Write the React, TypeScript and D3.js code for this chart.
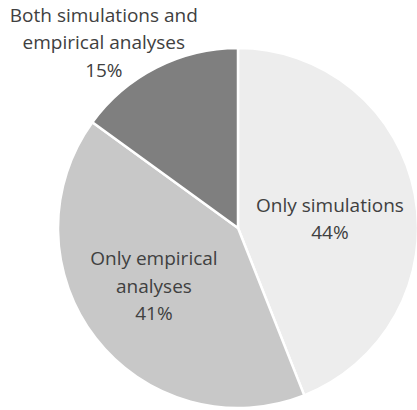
import React from 'react';
import * as d3 from 'd3';

// chart data
const categories = ['Only simulations', 'Only empirical analyses', 'Both simulations and empirical analyses'];
const shares = [44, 41, 15];
const labelLines = [
  ['Only simulations', '44%'],
  ['Only empirical', 'analyses', '41%'],
  ['Both simulations and', 'empirical analyses', '15%'],
];
const colors = ['#ededed', '#c8c8c8', '#7f7f7f'];

// layout
const W = 417;
const H = 410;
const cx = 238;
const cy = 228;
const R = 180;
const lineH = 27.5;
// label radius as a fraction of R, plus small nudges (Excel "best fit")
const labelPos = [
  { r: 0.52, dx: 0, dy: 10 },
  { r: 0.57, dx: -3, dy: -3 },
  { r: 1.14, dx: -41, dy: -1 },
];

export default function App() {
  const pie = d3.pie<number>().sort(null).value(d => d)(shares);
  const arc = d3.arc<d3.PieArcDatum<number>>().innerRadius(0).outerRadius(R);

  return (
    <svg width={W} height={H} style={{ position: 'absolute', left: 0, top: 0, background: '#fff' }}
      fontFamily="'Open Sans', sans-serif">
      <g transform={`translate(${cx},${cy})`}>
        {pie.map((p, i) => (
          <path key={categories[i]} d={arc(p) || ''} fill={colors[i]} stroke="#fff" strokeWidth={2.5} strokeLinejoin="round" />
        ))}
        {pie.map((p, i) => {
          const lp = labelPos[i];
          const la = d3.arc<d3.PieArcDatum<number>>().innerRadius(R * lp.r).outerRadius(R * lp.r);
          const [x, y] = la.centroid(p);
          const lines = labelLines[i];
          const y0 = y + lp.dy - ((lines.length - 1) * lineH) / 2;
          return (
            <text key={i} x={x + lp.dx} y={y0} textAnchor="middle" fill="#404040" fontSize={19} dominantBaseline="middle">
              {lines.map((l, j) => (
                <tspan key={j} x={x + lp.dx} y={y0 + j * lineH}>{l}</tspan>
              ))}
            </text>
          );
        })}
      </g>
    </svg>
  );
}
